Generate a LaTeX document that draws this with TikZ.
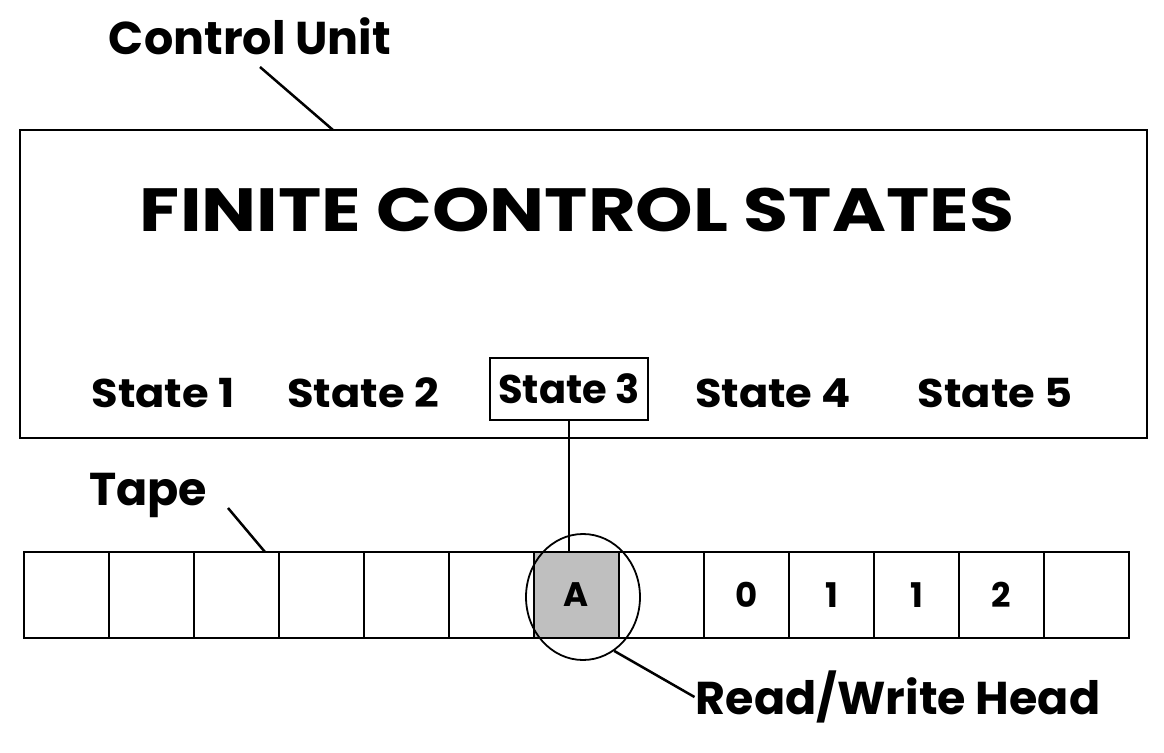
\documentclass[tikz,border=0pt]{standalone}
\usepackage{fontspec}
\setmainfont{Poppins}
\usetikzlibrary{shapes.geometric}
\begin{document}
\begin{tikzpicture}[x=1pt,y=-1pt,line width=2.5pt,
  lbl/.style={font=\bfseries\fontsize{46}{50}\selectfont, inner sep=0pt},
  title/.style={font=\bfseries\fontsize{61}{66}\selectfont, inner sep=0pt},
  st/.style={font=\bfseries\fontsize{40}{44}\selectfont, inner sep=0pt},
  cell/.style={draw, rectangle, minimum width=85pt, minimum height=86pt, inner sep=0pt, font=\bfseries\fontsize{34}{38}\selectfont},
  leader/.style={line width=2.5pt}]
\useasboundingbox (0,0) rectangle (1164,752);
\node[draw, rectangle, minimum width=1127pt, minimum height=308pt, inner sep=0pt] (cu) at (583.5,284) {};
\node[lbl] (cul) at (250,36) {Control Unit};
\coordinate (cutop) at (333,130);
\coordinate (cua) at (260,67);
\draw[leader] (cua) -- (cutop);
\node[title] (fcs) at (577,210) {\scalebox{1.2}[1]{FINITE CONTROL STATES}};
\node[st] (s1) at (163,393) {\scalebox{1.08}[1]{State 1}};
\node[st] (s2) at (363,393) {\scalebox{1.08}[1]{State 2}};
\node[st, draw, minimum width=158pt, minimum height=62pt] (s3) at (569,389) {State 3};
\node[st] (s4) at (773,393) {\scalebox{1.08}[1]{State 4}};
\node[st] (s5) at (995,393) {\scalebox{1.08}[1]{State 5}};
\foreach \i/\t in {1/,2/,3/,4/,5/,6/,8/,9/0,10/1,11/1,12/2,13/} {
  \node[cell] (c\i) at ({24+42.5+85*(\i-1)},595) {\t};
}
\node[cell, fill=black!25] (c7) at ({24+42.5+85*6},595) {A};
\draw (s3.south) -- (s3.south |- c7.north);
\node[draw, ellipse, line width=1.8pt, minimum width=114pt, minimum height=126pt, inner sep=0pt] (head) at (583,597) {};
\node[lbl] (rw) at (898,697) {Read/Write Head};
\draw[leader] (head.-60) -- (rw.west);
\node[lbl] (tape) at (148,495) {Tape};
\coordinate (tapetop) at (265,552);
\coordinate (tapea) at (228,508);
\draw[leader] (tapea) -- (tapetop);
\end{tikzpicture}
\end{document}
